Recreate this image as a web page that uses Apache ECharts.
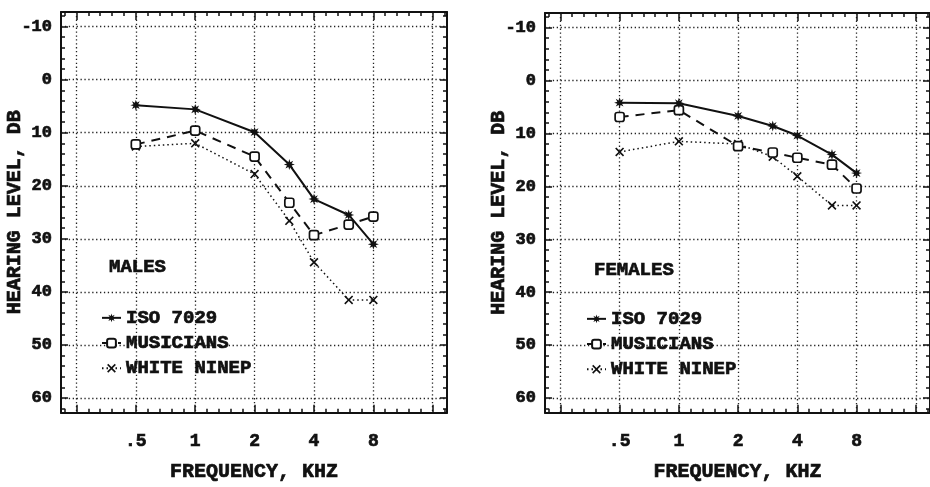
<!DOCTYPE html>
<html>
<head>
<meta charset="utf-8">
<script src="https://cdn.jsdelivr.net/npm/echarts@6/dist/echarts.min.js"></script>
<style>html,body{margin:0;padding:0;background:#fff}#c{width:930px;height:487px}</style>
</head>
<body>
<div id="c"></div>
<script>
// ---- data ----
const freqs = [0.5, 1, 2, 3, 4, 6, 8];           // kHz
const seriesNames = ['ISO 7029', 'MUSICIANS', 'WHITE NINEP'];
const maleIso = [4.8, 5.6, 9.9, 16.0, 22.5, 25.5, 31.0];
const maleMus = [12.2, 9.6, 14.5, 23.2, 29.3, 27.3, 25.8];
const maleNin = [12.6, 12.0, 17.8, 26.6, 34.4, 41.5, 41.5];
const femIso = [4.2, 4.3, 6.7, 8.6, 10.4, 14.0, 17.5];
const femMus = [6.9, 5.6, 12.4, 13.6, 14.6, 15.9, 20.4];
const femNin = [13.5, 11.5, 12.0, 14.4, 18.1, 23.6, 23.6];
const xTickFreqs = [0.5, 1, 2, 4, 8];
const xTickLabels = ['.5', '1', '2', '4', '8'];
const xGridFreqs = [0.25, 0.5, 1, 2, 4, 8, 16];
const yTickValues = [-10, 0, 10, 20, 30, 40, 50, 60];
const panelTitles = ['MALES', 'FEMALES'];
const xAxisName = 'FREQUENCY, KHZ';
const yAxisName = 'HEARING LEVEL, DB';

// octave scale (log2 relative to 0.5 kHz)
const octave = f => Math.log2(f / 0.5);
const XMIN = -1.26, XMAX = 5.24, YMIN = -12.75, YMAX = 62.75;

// tick positions (minor ticks: 1/5 octave, 2 dB)
const xMajor = xGridFreqs.map(octave);
const xMinor = [];
for (let k = -7; k <= 27; k++) xMinor.push(+(k * 0.2).toFixed(2));
const yMinor = [];
for (let v = -12; v <= 62; v += 2) yMinor.push(v);
const xLabelPos = xTickFreqs.map(octave);

const FONT = "'Liberation Mono', 'DejaVu Sans Mono', monospace";
const INK = '#111';
const txt = (size) => ({color: INK, fontFamily: FONT, fontWeight: 'bold', fontSize: size,
  textBorderColor: INK, textBorderWidth: 0.7});

const grids = [
  {left: 61, top: 12, width: 386, height: 411},
  {left: 545, top: 13, width: 389, height: 412}
];

const xAxes = [], yAxes = [];
function fmtX(v) {
  for (let i = 0; i < xTickFreqs.length; i++) {
    if (Math.abs(octave(xTickFreqs[i]) - v) < 1e-6) return xTickLabels[i];
  }
  return '';
}
const dotted = {show: true, lineStyle: {color: '#222', width: 1.3, type: [1.3, 2.6]}};
const noLine = {show: false, onZero: false};
const frameLine = {show: true, onZero: false, lineStyle: {color: INK, width: 2}};
const tick = (vals, len) => ({show: true, inside: true, length: len, customValues: vals,
  lineStyle: {color: INK, width: 1.5}});

grids.forEach((g, gi) => {
  const base = {gridIndex: gi, type: 'value', min: XMIN, max: XMAX, splitLine: {show: false},
    axisLabel: {show: false}, axisLine: noLine};
  // major bottom: labels, gridlines, name
  xAxes.push(Object.assign({}, base, {position: 'bottom',
    axisTick: tick(xMajor, 8),
    axisLabel: Object.assign({show: true, customValues: xLabelPos, formatter: fmtX, margin: 20}, txt(18)),
    splitLine: dotted,
    name: xAxisName, nameLocation: 'middle', nameGap: 49, nameMoveOverlap: false,
    nameTextStyle: txt(20)}));
  // minor bottom
  xAxes.push(Object.assign({}, base, {position: 'bottom', axisLine: frameLine, axisTick: tick(xMinor, 4)}));
  // major top
  xAxes.push(Object.assign({}, base, {position: 'top', axisTick: tick(xMajor, 8)}));
  // minor top
  xAxes.push(Object.assign({}, base, {position: 'top', axisLine: frameLine, axisTick: tick(xMinor, 4)}));

  const ybase = {gridIndex: gi, type: 'value', min: YMIN, max: YMAX, inverse: true,
    splitLine: {show: false}, axisLabel: {show: false}, axisLine: noLine};
  yAxes.push(Object.assign({}, ybase, {position: 'left',
    axisTick: tick(yTickValues, 7),
    axisLabel: Object.assign({show: true, customValues: yTickValues, margin: 9}, txt(17)),
    splitLine: dotted,
    name: yAxisName, nameLocation: 'middle', nameGap: 36, nameRotate: 90, nameMoveOverlap: false,
    nameTextStyle: txt(20)}));
  yAxes.push(Object.assign({}, ybase, {position: 'left', axisLine: frameLine, axisTick: tick(yMinor, 4)}));
  yAxes.push(Object.assign({}, ybase, {position: 'right', axisTick: tick(yTickValues, 7)}));
  yAxes.push(Object.assign({}, ybase, {position: 'right', axisLine: frameLine, axisTick: tick(yMinor, 4)}));
});

const STAR = 'path://M5,0 L5.88,2.875 L8.54,1.46 L7.125,4.12 L10,5 L7.125,5.88 L8.54,8.54 L5.88,7.125 L5,10 L4.12,7.125 L1.46,8.54 L2.875,5.88 L0,5 L2.875,4.12 L1.46,1.46 L4.12,2.875 Z';
const CROSS = 'path://M0,1.3 L1.3,0 L5,3.7 L8.7,0 L10,1.3 L6.3,5 L10,8.7 L8.7,10 L5,6.3 L1.3,10 L0,8.7 L3.7,5 Z';

const styles = [
  {symbol: STAR, symbolSize: 11, itemStyle: {color: INK},
   lineStyle: {color: INK, width: 2, type: 'solid'}},
  {symbol: 'roundRect', symbolSize: 9, itemStyle: {color: '#fff', borderColor: INK, borderWidth: 1.7},
   lineStyle: {color: INK, width: 2, type: [9, 7]}},
  {symbol: CROSS, symbolSize: 9, itemStyle: {color: INK},
   lineStyle: {color: INK, width: 1.5, type: [1.5, 3]}}
];

const panels = [[maleIso, maleMus, maleNin], [femIso, femMus, femNin]];
const series = [];
panels.forEach((vals, gi) => {
  vals.forEach((arr, si) => {
    series.push(Object.assign({
      type: 'line', name: seriesNames[si],
      xAxisIndex: gi * 4, yAxisIndex: gi * 4,
      data: freqs.map((f, i) => [octave(f), arr[i]]),
      showAllSymbol: true, animation: false, z: 5 - si
    }, styles[si]));
  });
});

const legendPos = [{left: 101, top: 308}, {left: 586, top: 309}];
const legends = legendPos.map(p => ({
  left: p.left, top: p.top, orient: 'vertical', padding: 0,
  itemWidth: 19, itemHeight: 11, itemGap: 5.5, selectedMode: false,
  data: seriesNames,
  textStyle: Object.assign({lineHeight: 19}, txt(19))
}));

const titlePos = [{left: 109, top: 258}, {left: 594, top: 261}];
const titles = titlePos.map((p, i) => ({
  text: panelTitles[i], left: p.left, top: p.top, padding: 0,
  textStyle: txt(19)
}));

const chart = echarts.init(document.getElementById('c'), null, {renderer: 'canvas'});
chart.setOption({
  backgroundColor: '#fff',
  animation: false,
  title: titles,
  legend: legends,
  grid: grids,
  xAxis: xAxes,
  yAxis: yAxes,
  series: series
});
</script>
</body>
</html>
